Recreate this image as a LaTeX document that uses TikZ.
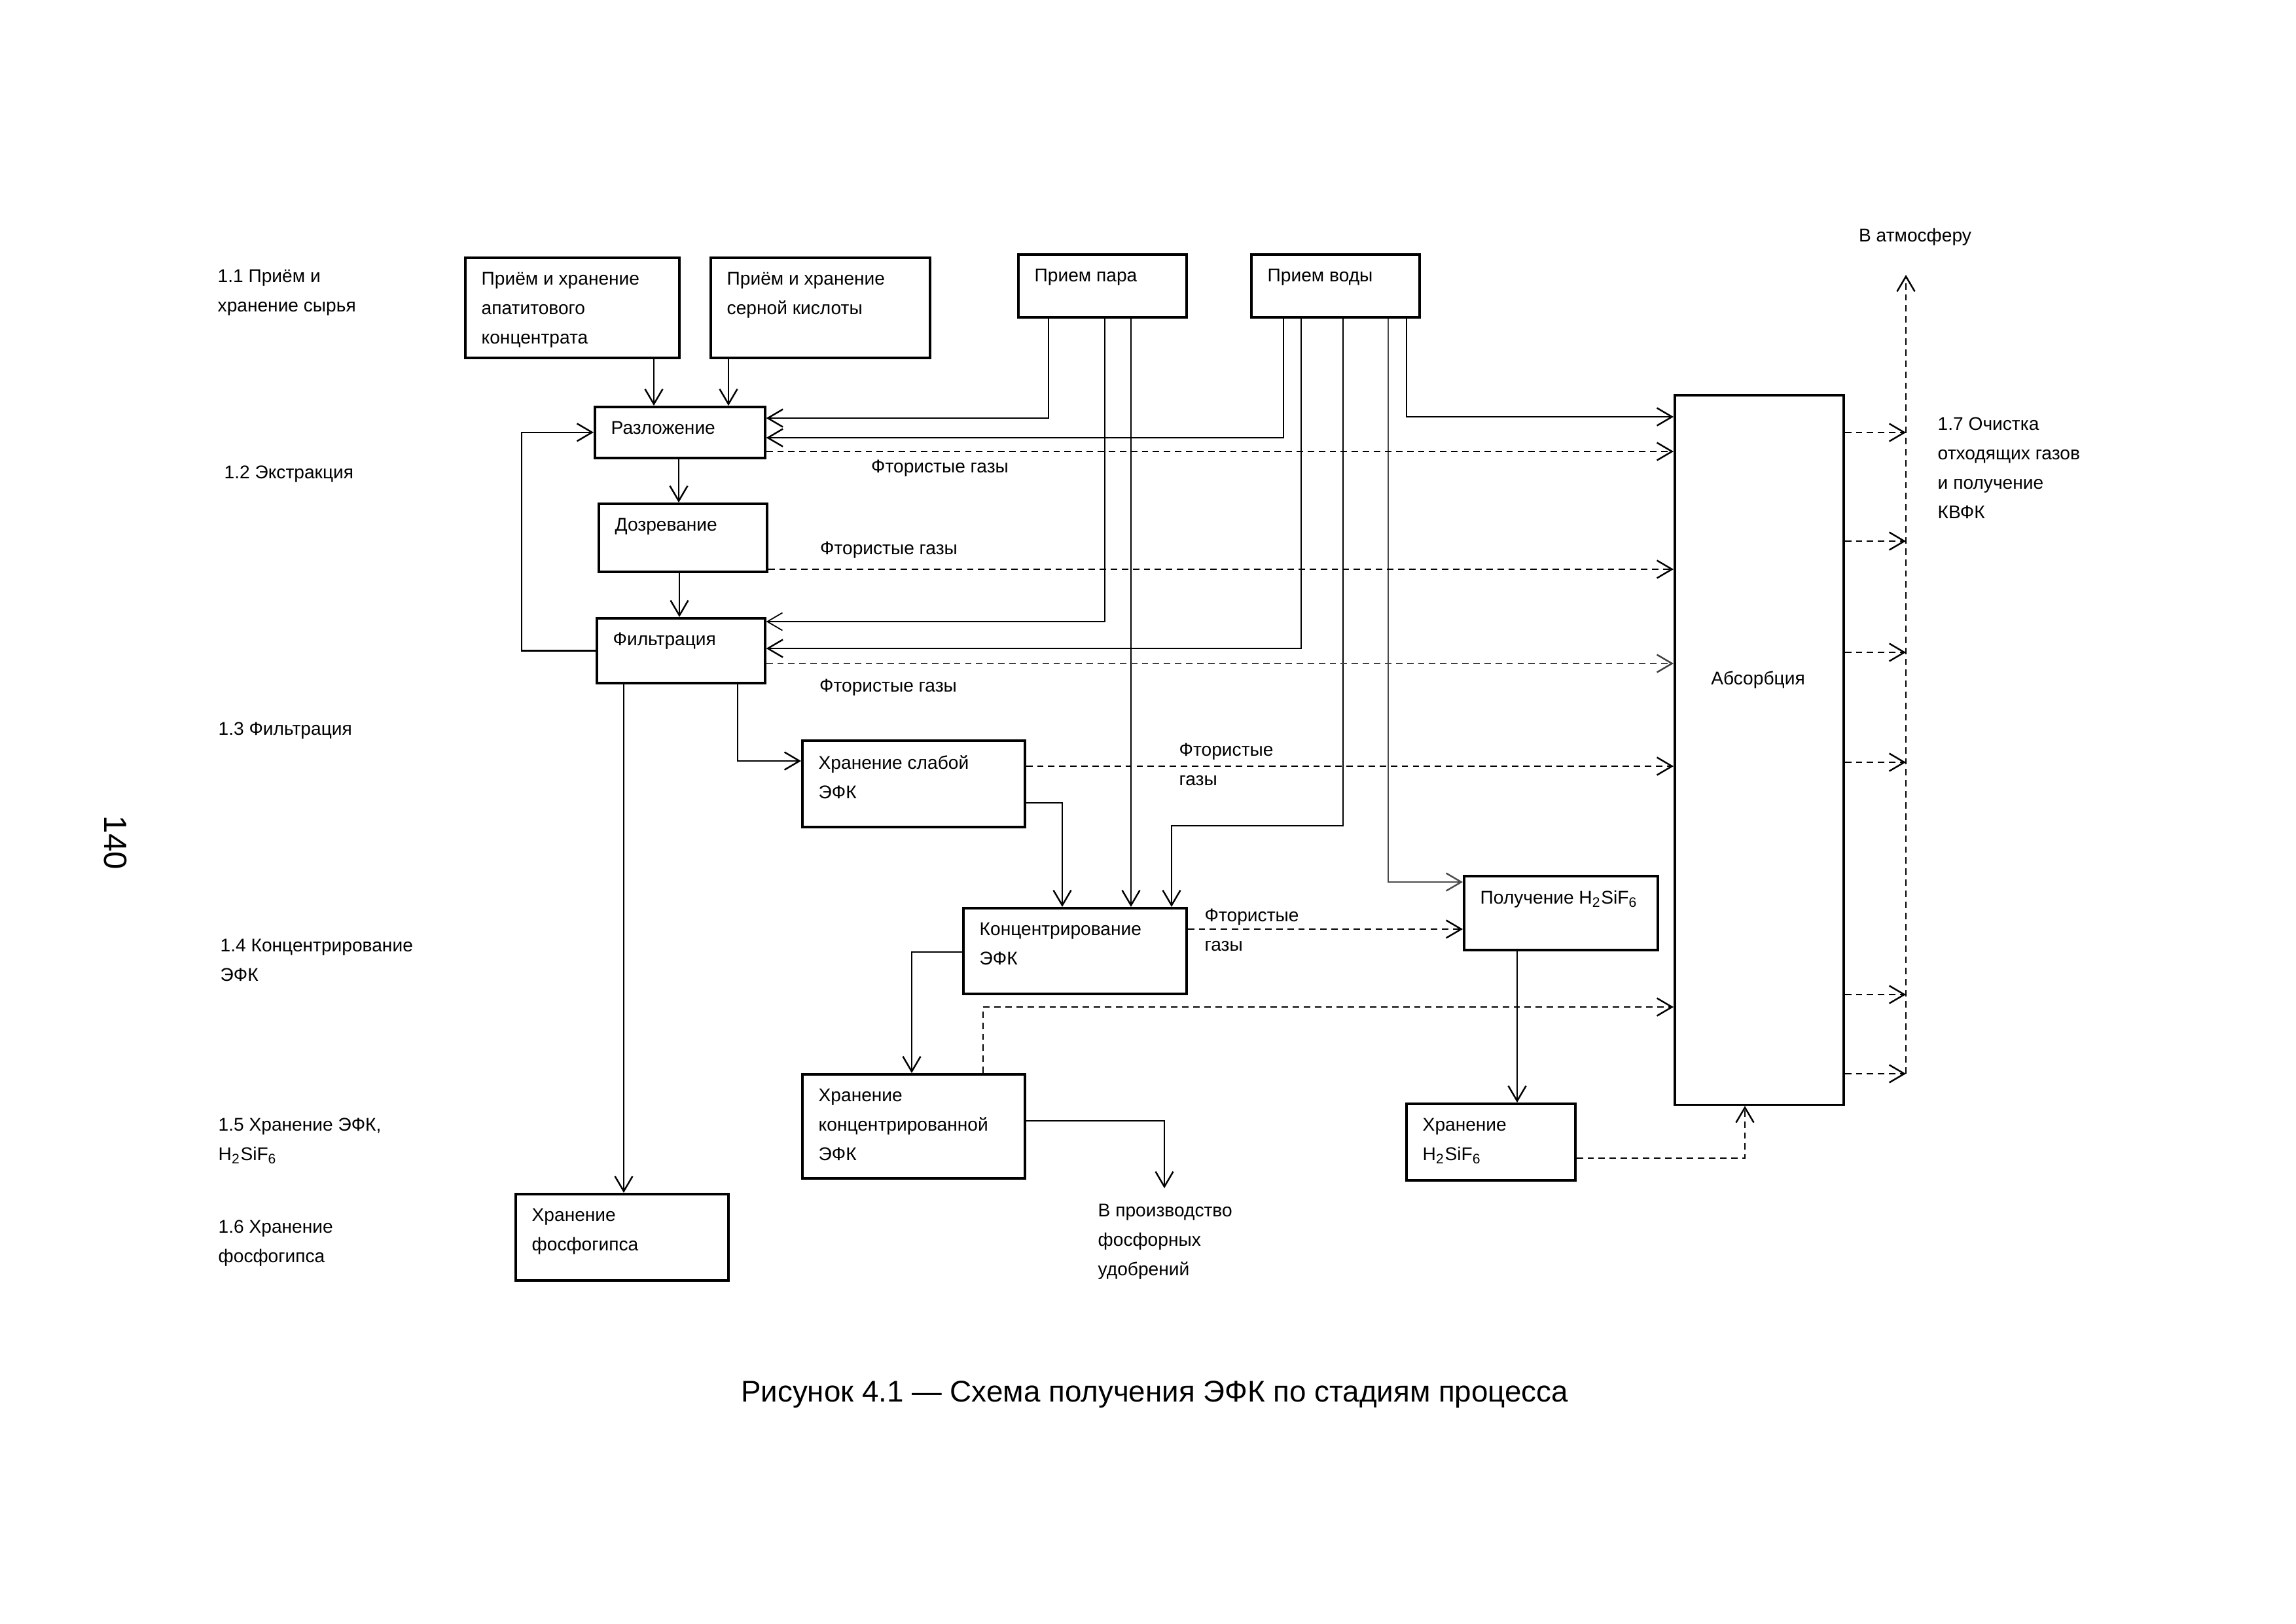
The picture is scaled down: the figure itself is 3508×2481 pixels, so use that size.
\documentclass[tikz,border=0pt]{standalone}
\usepackage{fontspec}
\setmainfont{Liberation Sans}
\usetikzlibrary{arrows.meta,calc}

\tikzset{
  mel/.style={font=\fontsize{8}{12.8}\selectfont},
  blok/.style={draw, line width=1pt, anchor=north west, inner sep=0pt},
  btext/.style={mel, anchor=north west, inner sep=0pt, align=left, xshift=0.26cm, yshift=-0.235cm},
  podpis/.style={mel, inner sep=0pt, align=left},
  arr/.style={line width=0.7pt, -{Straight Barb[length=2.3mm,width=2.7mm]}},
  darr/.style={arr, dash pattern=on 2.8pt off 2pt},
}

\begin{document}
\begin{tikzpicture}[x=0.01cm, y=-0.01cm]  % координаты в пикселях листа
    \useasboundingbox (0,0) rectangle (3508,2481);

    % блоки
    \node[blok, minimum width=3.27cm, minimum height=1.53cm, label={[btext]north west:Приём  и хранение\\апатитового\\концентрата}] (apat) at (709,392) {};
    \node[blok, minimum width=3.35cm, minimum height=1.53cm, label={[btext]north west:Приём и хранение\\серной кислоты}] (sern) at (1084,392) {};
    \node[blok, minimum width=2.57cm, minimum height=0.96cm, label={[btext]north west:Прием пара}] (par) at (1554,387) {};
    \node[blok, minimum width=2.57cm, minimum height=0.96cm, label={[btext]north west:Прием воды}] (voda) at (1910,387) {};
    \node[blok, minimum width=2.60cm, minimum height=0.78cm, label={[btext]north west:Разложение}] (razl) at (907,620) {};
    \node[blok, minimum width=2.57cm, minimum height=1.04cm, label={[btext]north west:Дозревание}] (dozr) at (913,768) {};
    \node[blok, minimum width=2.57cm, minimum height=0.99cm, label={[btext]north west:Фильтрация}] (filtr) at (910,943) {};
    \node[blok, minimum width=3.40cm, minimum height=1.32cm, label={[btext]north west:Хранение слабой\\ЭФК}] (hrsl) at (1224,1130) {};
    \node[blok, minimum width=3.41cm, minimum height=1.31cm, label={[btext]north west:Концентрирование\\ЭФК}] (konc) at (1470,1386) {};
    \node[blok, minimum width=3.40cm, minimum height=1.59cm, label={[btext]north west:Хранение\\концентрированной\\ЭФК}] (hrkonc) at (1224,1640) {};
    \node[blok, minimum width=2.96cm, minimum height=1.13cm, label={[btext]north west:Получение H\textsubscript{2}SiF\textsubscript{6}}] (polu) at (2235,1337) {};
    \node[blok, minimum width=2.58cm, minimum height=1.17cm, label={[btext]north west:Хранение\\H\textsubscript{2}SiF\textsubscript{6}}] (hrh) at (2147,1685) {};
    \node[blok, minimum width=3.25cm, minimum height=1.32cm, label={[btext]north west:Хранение\\фосфогипса}] (gips) at (786,1823) {};
    \node[blok, minimum width=2.58cm, minimum height=10.84cm] (absorb) at (2557,602) {};
    \node[podpis] (absorb-t) at (2686,1039) {Абсорбция};

    % сырьё на разложение
    \draw[arr] (apat.south -| 999,0) -- (razl.north -| 999,0);
    \draw[arr] (sern.south -| 1113,0) -- (razl.north -| 1113,0);
    \draw[arr] (razl.south -| 1037,0) -- (dozr.north -| 1037,0);
    \draw[arr] (dozr.south -| 1038,0) -- (filtr.north -| 1038,0);
    \draw[arr] (filtr.west) -- ++(-113,0) |- (razl.west); % возврат

    % пар
    \draw[arr] (par.south -| 1602,0) |- (razl.east |- 0,639);
    \draw[arr, line width=0.5pt] (par.south -| 1688,0) |- (filtr.east |- 0,950);
    \draw[arr] (par.south -| 1728,0) -- (konc.north -| 1728,0);

    % вода
    \draw[arr] (voda.south -| 1961,0) |- (razl.east |- 0,669);
    \draw[arr] (voda.south -| 1988,0) |- (filtr.east |- 0,991);
    \draw[arr] (voda.south -| 2052,0) -- (2052,1262) -| (konc.north -| 1790,0);
    \draw[arr, draw=black!70] (voda.south -| 2121,0) |- (polu.west |- 0,1348);
    \draw[arr] (voda.south -| 2149,0) |- (absorb.west |- 0,637);

    % кислота
    \draw[arr] (filtr.south -| 1127,0) |- (hrsl.west |- 0,1163);
    \draw[arr] (filtr.south -| 953,0) -- (gips.north -| 953,0);
    \draw[arr] (hrsl.east |- 0,1227) -| (konc.north -| 1623,0);
    \draw[arr] (konc.west |- 0,1455) -| (hrkonc.north -| 1393,0);
    \coordinate (vprod) at (1779,1816);
    \draw[arr] (hrkonc.east |- 0,1713) -| (vprod);
    \draw[arr] (polu.south -| 2318,0) -- (hrh.north -| 2318,0);

    % фтористые газы
    \draw[darr] (razl.east |- 0,690) -- (absorb.west |- 0,690);
    \draw[darr] (dozr.east |- 0,870) -- (absorb.west |- 0,870);
    \draw[darr, draw=black!75] (filtr.east |- 0,1014) -- (absorb.west |- 0,1014);
    \draw[darr] (hrsl.east |- 0,1171) -- (absorb.west |- 0,1171);
    \draw[darr] (konc.east |- 0,1420) -- (polu.west |- 0,1420);
    \draw[darr] (hrkonc.north -| 1502,0) |- (absorb.west |- 0,1539);
    \draw[darr] (hrh.east |- 0,1770) -| (absorb.south -| 2666,0);

    % очистка
    \foreach \y in {661,827,997,1165,1520,1641}
        \draw[darr] (absorb.east |- 0,\y) -- (2912,\y);
    \coordinate (vyhod) at (2912,420);
    \draw[darr] (2912,1641) -- (vyhod);

    % надписи
    \node[podpis] (gaz1) at (1436,716) {Фтористые газы};
    \node[podpis] (gaz2) at (1358,841) {Фтористые газы};
    \node[podpis] (gaz3) at (1357,1051) {Фтористые газы};
    \node[podpis, anchor=west] (gaz4) at (1801,1168) {Фтористые\\газы};
    \node[podpis, anchor=west] (gaz5) at (1840,1421) {Фтористые\\газы};
    \node[podpis, anchor=west] (vprod-t) at (1677,1898) {В производство\\фосфорных\\удобрений};
    \node[podpis] (atm) at (2926,362) {В атмосферу};
    \node[podpis, anchor=west] (st7) at (2960,715) {1.7 Очистка\\отходящих газов\\и получение\\КВФК};

    % стадии
    \node[podpis, anchor=west] (st1) at (332,447) {1.1 Приём и\\хранение сырья};
    \node[podpis, anchor=west] (st2) at (342,725) {1.2 Экстракция};
    \node[podpis, anchor=west] (st3) at (333,1117) {1.3 Фильтрация};
    \node[podpis, anchor=west] (st4) at (336,1467) {1.4 Концентрирование\\ЭФК};
    \node[podpis, anchor=west] (st5) at (333,1744) {1.5 Хранение  ЭФК,\\H\textsubscript{2}SiF\textsubscript{6}};
    \node[podpis, anchor=west] (st6) at (333,1900) {1.6 Хранение\\фосфогипса};

    \node[font=\fontsize{14}{16}\selectfont, rotate=-90] (stran) at (176,1288) {140};
    \node[font=\fontsize{13}{16}\selectfont] (ris) at (1764,2131) {Рисунок 4.1 — Схема получения ЭФК по стадиям процесса};

\end{tikzpicture}
\end{document}
